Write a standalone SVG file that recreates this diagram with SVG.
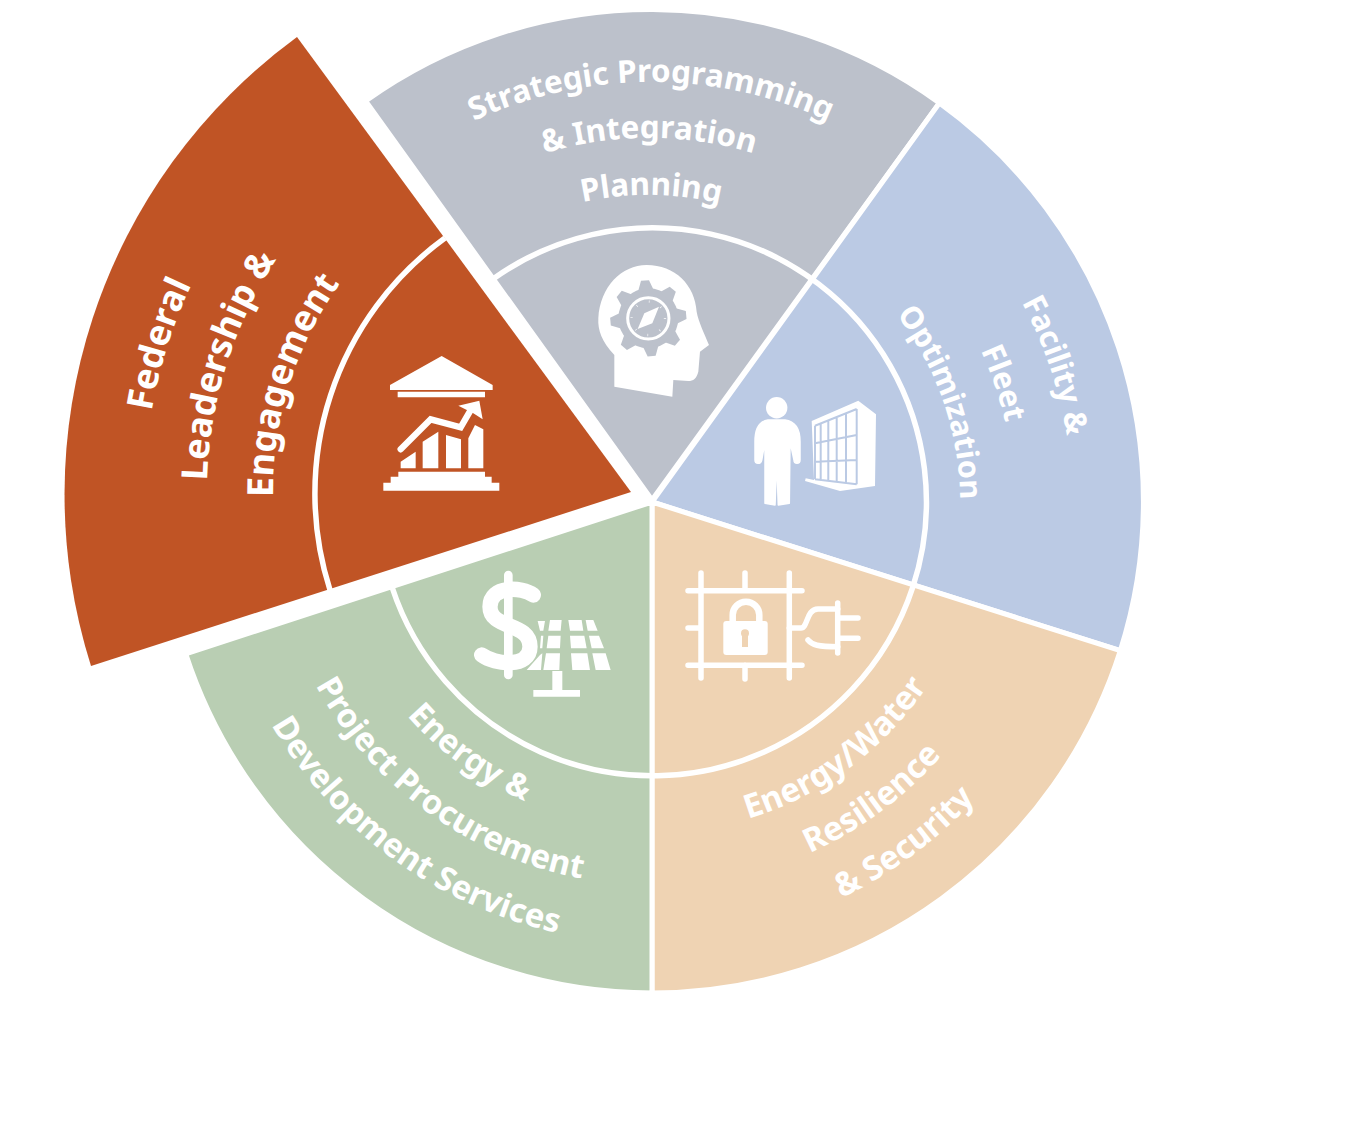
<svg xmlns="http://www.w3.org/2000/svg" width="1350" height="1121" viewBox="0 0 1350 1121">
<style>
.sec{stroke:#fff;stroke-width:5;stroke-linejoin:miter}
.ring{fill:none;stroke:#fff;stroke-width:5.5}
.lbl{font-family:"Noto Sans","Open Sans","DejaVu Sans",sans-serif;font-weight:700;fill:#fff;text-anchor:middle}
.gr{font-size:31.5px}
.bl{font-size:31px}
.or{font-size:33px}
.ve{font-size:33px}
.re{font-size:36px}
.ln{fill:none;stroke:#fff;stroke-linecap:round}
.w{fill:#fff}
</style>
<defs>
<path id="g1" d="M-344.1,-240.9A420,420 0 0 1 344.1,-240.9"/>
<path id="g2" d="M-298.2,-208.8A364,364 0 0 1 298.2,-208.8"/>
<path id="g3" d="M-251.5,-176.1A307,307 0 0 1 251.5,-176.1"/>
<path id="b2" d="M-296.6,-207.6A362,362 0 0 1 296.6,-207.6"/>
<path id="b3" d="M-252.3,-176.7A308,308 0 0 1 252.3,-176.7"/>
<path id="r1" d="M-398.1,-278.8A486,486 0 0 1 398.1,-278.8"/>
<path id="r2" d="M-347.3,-243.2A424,424 0 0 1 347.3,-243.2"/>
<path id="r3" d="M-293.3,-205.3A358,358 0 0 1 293.3,-205.3"/>
<path id="o1" d="M-271.2,189.9A331,331 0 0 0 271.2,189.9"/>
<path id="o2" d="M-315.4,220.8A385,385 0 0 0 315.4,220.8"/>
<path id="o3" d="M-359.6,251.8A439,439 0 0 0 359.6,251.8"/>
<path id="v1" d="M-266.2,186.4A325,325 0 0 0 266.2,186.4"/>
<path id="v2" d="M-313.8,219.7A383,383 0 0 0 313.8,219.7"/>
<path id="v3" d="M-361.3,253A441,441 0 0 0 361.3,253"/>
<polygon id="tooth" points="166,108 178,76 202,76 214,108" fill="#BCC1CB"/>
</defs>
<rect width="1350" height="1121" fill="#fff"/>
<g id="node-strategic">
<path class="sec" fill="#BCC1CB" d="M652,500L365.6,101A491.5,491.5 0 0 1 939.4,103Z"/>
<text class="lbl gr" transform="translate(651,502)"><textPath href="#g1" startOffset="50%">Strategic Programming</textPath></text>
<text class="lbl gr" transform="translate(649,502)"><textPath href="#g2" startOffset="50%">&amp; Integration</textPath></text>
<text class="lbl gr" transform="translate(648,502) rotate(.6)"><textPath href="#g3" startOffset="50%">Planning</textPath></text>
<g transform="translate(585,255) scale(.3333)">
<path class="w" d="M88,395V300C50,260 38,225 40,190C45,95 110,30 185,30C270,30 330,90 335,170C340,200 360,240 372,270L345,290L340,350C335,370 325,378 310,378L265,375L262,425Z"/>
<circle cx="190" cy="190" r="90" fill="#BCC1CB"/>
<g transform="rotate(-5 190 190)">
<use href="#tooth"/>
<use href="#tooth" transform="rotate(45 190 190)"/>
<use href="#tooth" transform="rotate(90 190 190)"/>
<use href="#tooth" transform="rotate(135 190 190)"/>
<use href="#tooth" transform="rotate(180 190 190)"/>
<use href="#tooth" transform="rotate(225 190 190)"/>
<use href="#tooth" transform="rotate(270 190 190)"/>
<use href="#tooth" transform="rotate(315 190 190)"/>
</g>
<circle cx="190" cy="190" r="62" fill="none" stroke="#fff" stroke-width="9"/>
<circle cx="190" cy="190" r="50" fill="none" stroke="#fff" stroke-width="7" stroke-dasharray="2 37.3"/>
<path class="w" d="M222,155L202,205L158,222L178,175Z"/>
</g>
</g>
<g id="node-facility">
<path class="sec" fill="#BBCAE4" d="M652,502L939.4,103A491.5,491.5 0 0 1 1120.3,650.7Z"/>
<text class="lbl bl" transform="translate(652,502) rotate(71.3)"><textPath href="#g1" startOffset="50%">Facility &amp;</textPath></text>
<text class="lbl bl" transform="translate(652,502) rotate(71.3)"><textPath href="#b2" startOffset="50%">Fleet</textPath></text>
<text class="lbl" style="font-size:30.5px" transform="translate(652,502) rotate(71)"><textPath href="#b3" startOffset="50%">Optimization</textPath></text>
<g>
<circle class="w" cx="776.7" cy="407.7" r="10.7"/>
<path class="w" stroke="#fff" stroke-width="1.5" stroke-linejoin="round" d="M768,420H785Q800,422 800,441.7V460Q800,463.3 797,463.3Q794,463.3 794,460L790,441.7L789.3,503.3L778.3,505L776.7,460L775,505L765,503.3L765,441.7L761.7,460Q761,463.3 758,463.3Q755,463.3 755,460V441.7Q755,422 768,420Z"/>
<path class="w" d="M811.7,421L858.3,400.7L876,414.3L875,486L840,491L805,481L805.7,478.3L814,480Z"/>
<path fill="none" stroke="#BBCAE4" stroke-width="2" d="M815,425.7L856.7,409M815,443.3L856.7,435M815,461.7L856.7,460M815,479.3L856.7,484.3M815,425.7V479.3M820.7,423.4V480M828.3,420.4V480.9M836.7,417V481.9M846,413.3V483M856.7,409V484.3"/>
</g>
</g>
<g id="node-resilience">
<path class="sec" fill="#EFD3B3" d="M652,502L1120.3,650.7A491.5,491.5 0 0 1 652,993Z"/>
<text class="lbl or" transform="translate(652,502) rotate(-36.5)"><textPath href="#o1" startOffset="50%">Energy/Water</textPath></text>
<text class="lbl or" transform="translate(652,502) rotate(-36.5)"><textPath href="#o2" startOffset="50%">Resilience</textPath></text>
<text class="lbl or" transform="translate(652,502) rotate(-36.5)"><textPath href="#o3" startOffset="50%">&amp; Security</textPath></text>
<g>
<path class="ln" stroke-width="5.5" d="M701,573V678M789.3,573V678M688,590.7H802M688,665.3H802M745,573V590M745,665V679M688,628H701M789,628H801C808,628 806,609 818,609H838M808,640C812,645 818,646.7 838,646.7M837.7,603V653M838,618H858M838,638.3H858"/>
<rect class="w" x="723.3" y="621" width="44.4" height="34" rx="3"/>
<path class="ln" stroke-width="6.5" stroke-linecap="butt" d="M732.7,623V615A13.3,13.3 0 0 1 759.3,615V623"/>
<circle cx="745" cy="633.3" r="4" fill="#EFD3B3"/>
<rect x="742" y="634" width="6" height="13" fill="#EFD3B3"/>
</g>
</g>
<g id="node-procurement">
<path class="sec" fill="#B9CEB3" d="M652,502L652,993A491.5,491.5 0 0 1 185.7,653.8Z"/>
<text class="lbl ve" transform="translate(652,502) rotate(36)"><textPath href="#v1" startOffset="50%">Energy &amp;</textPath></text>
<text class="lbl ve" transform="translate(652,502) rotate(36)"><textPath href="#v2" startOffset="50%">Project Procurement</textPath></text>
<text class="lbl ve" transform="translate(652,502) rotate(36)"><textPath href="#v3" startOffset="50%">Development Services</textPath></text>
<g transform="translate(465,565) scale(.3333)">
<path class="ln" stroke-width="46" stroke-linecap="butt" d="M205,90C170,65 75,60 75,125C75,195 195,170 195,245C195,310 90,300 50,270"/>
<path class="ln" stroke-width="26" stroke-linecap="butt" d="M130,30V330"/>
<path class="w" d="M218,168H240L235,197H225ZM255,165H290L287,197H250ZM310,165H350L355,197H315ZM362,165H385L398,197H368ZM228,212H235L232,250H225ZM250,212H287L285,250H245ZM315,212H358L365,250H318ZM372,212H402L417,250H380ZM225,270L232,265L228,315H185ZM243,265H285L283,315H235ZM318,265H367L375,315H322ZM382,265H422L437,315H392ZM262,318H292V375H345V395H205V375H262Z"/>
</g>
</g>
<path class="ring" d="M493,279A274,274 0 1 1 392,587" id="inner-ring"/>
<g id="node-federal">
<path fill="#C05425" d="M631,492L297,37A567,567 0 0 0 91,666Z"/>
<path class="ring" d="M445,238A316,316 0 0 0 330,590"/>
<text class="lbl re" transform="translate(631,492) rotate(-72.6)"><textPath href="#r1" startOffset="50%">Federal</textPath></text>
<text class="lbl re" transform="translate(631,492) rotate(-72.6)"><textPath href="#r2" startOffset="50%">Leadership &amp;</textPath></text>
<text class="lbl re" transform="translate(631,492) rotate(-72.6)"><textPath href="#r3" startOffset="50%">Engagement</textPath></text>
<g transform="translate(370,340) scale(.3333)">
<path class="w" d="M215,48L368,135V150H60V135ZM83,155H345V172H83ZM265,197L328,182L338,238L310,220ZM92,385V365L137,335V385ZM158,385V305L205,275V385ZM228,385V285L273,298V385ZM295,385V295L315,255L340,268V385ZM85,395H345V410H365V428H388V452H40V428H62V410H85Z"/>
<path class="ln" stroke-width="19" stroke-linecap="butt" d="M92,328L182,238L272,262L305,205"/>
</g>
</g>
</svg>
